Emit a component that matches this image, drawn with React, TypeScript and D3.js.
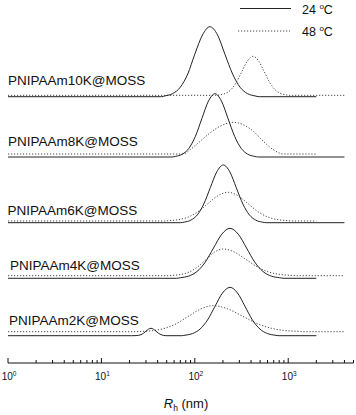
import React, { useEffect, useRef } from 'react'
import * as d3 from 'd3'

type Pt = [number, number]

// sample names, top to bottom
const samples = ['PNIPAAm10K@MOSS', 'PNIPAAm8K@MOSS', 'PNIPAAm6K@MOSS', 'PNIPAAm4K@MOSS', 'PNIPAAm2K@MOSS']

// vertical stacking of each pair of curves (intensity units)
const offsets24 = [266.3, 206, 140.3, 84.7, 27.3]
const offsets48 = [267.7, 209, 142, 87.3, 31.3]

// size distributions, [Rh (nm), intensity]
const s10k: Pt[] = [[1, 0], [44, 0], [48, 0.8], [58, 3.1], [70, 9.5], [84, 22.7], [100, 42.5], [121, 61.8], [145, 70], [175, 61.8], [210, 42.5], [254, 22.7], [305, 9.5], [366, 3.1], [441, 0.8], [490, 0], [2000, 0]]
const d10k: Pt[] = [[1, 0], [165, 0], [183, 0.4], [210, 1.7], [242, 5.3], [277, 12.7], [319, 23.7], [366, 34.4], [420, 39], [482, 34.4], [553, 23.7], [635, 12.7], [729, 5.3], [837, 1.7], [961, 0.4], [1050, 0], [4000, 0]]

const s8k: Pt[] = [[1, 0], [57, 0], [62.5, 0.7], [73.5, 2.8], [86.3, 8.6], [101.4, 20.6], [119, 38.4], [140, 55.9], [164.5, 63.3], [193, 55.9], [227, 38.4], [267, 20.6], [314, 8.6], [368, 2.8], [433, 0.7], [480, 0], [4000, 0]]
const d8k: Pt[] = [[1, 0], [75, 0], [89, 4.3], [114, 12.7], [145, 21], [186, 27.7], [258, 31.7], [330, 29.3], [423, 22.7], [541, 12.7], [693, 4.3], [817, 0.7], [887, 0], [2000, 0]]

const s6k: Pt[] = [[1, 0], [70, 0], [77.2, 0.6], [90.6, 2.5], [106.4, 7.8], [124.8, 18.7], [146.5, 35], [172, 50.9], [202, 57.7], [237, 50.9], [278, 35], [327, 18.7], [384, 7.8], [450, 2.5], [528, 0.6], [580, 0], [4000, 0]]
const d6k: Pt[] = [[1, 0], [47, 0], [51.6, 0.3], [66.1, 1.3], [84.6, 3.9], [108.2, 9.3], [138.4, 17.4], [177, 25.3], [227, 28.7], [290, 25.3], [371, 17.4], [475, 9.3], [608, 3.9], [778, 1.3], [995, 0.3], [1100, 0], [2000, 0]]

const s4k: Pt[] = [[1, 0], [64, 0], [70.3, 0.6], [86.1, 2.2], [105.6, 6.8], [129.4, 16.2], [158.6, 30.3], [194.4, 44.1], [238, 50], [292, 44.1], [358, 30.3], [438, 16.2], [537, 6.8], [658, 2.2], [807, 0.6], [900, 0], [2000, 0]]
const d4k: Pt[] = [[1, 0], [52, 0], [57, 0.3], [70.3, 1.2], [86.7, 3.6], [106.9, 8.7], [131.8, 16.2], [162.5, 23.6], [200.4, 26.7], [266, 23.6], [353, 16.2], [469, 8.7], [623, 3.6], [827, 1.2], [1098, 0.3], [1250, 0], [4000, 0]]

const s2k: Pt[] = [[1, 0], [21, 0], [23.5, 0.1], [26.5, 1], [28.2, 2.4], [30, 4.5], [31.9, 6.5], [34, 7.4], [36.1, 6.5], [38.4, 4.5], [40.9, 2.4], [43.5, 1], [46.3, 0.3], [49, 0], [72, 0], [78.5, 0.5], [94.5, 2.1], [113.7, 6.6], [136.8, 15.7], [164.5, 29.4], [198, 42.7], [238, 48.4], [286.5, 42.7], [344.5, 29.4], [414, 15.7], [499, 6.6], [600, 2.1], [722, 0.5], [800, 0], [2000, 0]]
const d2k: Pt[] = [[1, 0], [23, 0], [26.5, 0.3], [35.7, 1.1], [48, 3.5], [64.5, 8.4], [86.7, 15.8], [116.5, 22.9], [156.6, 26], [224, 22.9], [320, 15.8], [458, 8.4], [655, 3.5], [935, 1.1], [1337, 0.3], [1500, 0], [4000, 0]]

const series24 = [s10k, s8k, s6k, s4k, s2k]
const series48 = [d10k, d8k, d6k, d4k, d2k]

const majorTicks = [1, 10, 100, 1000]
const tickExponents = ['0', '1', '2', '3']
const legendLabels = ['24 ', '48 ']

const width = 356
const height = 415
const axisY = 363
const font = 'Liberation Sans, Arial, sans-serif'
const labelX = [8, 8, 7.5, 10, 9]
const labelY = [84.5, 146, 214.5, 270, 325]

const App = () => {
  const ref = useRef<SVGSVGElement>(null)

  useEffect(() => {
    const x = d3.scaleLog().domain([1, 5000]).range([8, 353.5])
    const y = d3.scaleLinear().domain([0, 100]).range([axisY, axisY - 100])

    const svg = d3.select(ref.current)
    svg.selectAll('*').remove()

    const lineAt = (off: number) => d3.line<Pt>()
      .x(d => x(d[0]))
      .y(d => y(d[1] + off))
      .curve(d3.curveMonotoneX)

    // curves
    series48.forEach((s, i) => {
      svg.append('path')
        .attr('d', lineAt(offsets48[i])(s))
        .attr('fill', 'none')
        .attr('stroke', '#444')
        .attr('stroke-width', 1)
        .attr('stroke-dasharray', '1.2,1.8')
    })
    series24.forEach((s, i) => {
      svg.append('path')
        .attr('d', lineAt(offsets24[i])(s))
        .attr('fill', 'none')
        .attr('stroke', '#222')
        .attr('stroke-width', 1)
    })

    // sample names
    svg.append('g')
      .selectAll('text')
      .data(samples)
      .join('text')
      .attr('x', (d, i) => labelX[i])
      .attr('y', (d, i) => labelY[i])
      .attr('font-family', font)
      .attr('font-size', 13.5)
      .attr('fill', '#111')
      .text(d => d)

    // x axis
    const ax = svg.append('g')
    ax.append('line')
      .attr('x1', x(1)).attr('x2', x(5000))
      .attr('y1', axisY).attr('y2', axisY)
      .attr('stroke', '#111')
    ax.selectAll('line.tick')
      .data(x.ticks())
      .join('line')
      .attr('class', 'tick')
      .attr('x1', d => x(d)).attr('x2', d => x(d))
      .attr('y1', axisY)
      .attr('y2', d => majorTicks.includes(d) ? axisY - 5 : axisY - 3)
      .attr('stroke', '#111')
    const lab = ax.selectAll('text.tl')
      .data(majorTicks)
      .join('text')
      .attr('class', 'tl')
      .attr('x', d => x(d) + 1)
      .attr('y', axisY + 17)
      .attr('text-anchor', 'middle')
      .attr('font-family', font)
      .attr('font-size', 10)
      .attr('fill', '#111')
    lab.append('tspan').text('10')
    lab.append('tspan')
      .attr('dy', -4)
      .attr('font-size', 6.5)
      .text((d, i) => tickExponents[i])

    const title = svg.append('text')
      .attr('x', 186)
      .attr('y', 408)
      .attr('text-anchor', 'middle')
      .attr('font-family', font)
      .attr('font-size', 13)
      .attr('fill', '#111')
    title.append('tspan').attr('font-style', 'italic').text('R')
    title.append('tspan').attr('font-size', 8.5).attr('dy', 3).text('h')
    title.append('tspan').attr('dy', -3).text(' (nm)')

    // legend
    const lg = svg.append('g')
    lg.append('line')
      .attr('x1', 240).attr('x2', 291).attr('y1', 8.5).attr('y2', 8.5)
      .attr('stroke', '#222')
    lg.append('line')
      .attr('x1', 238).attr('x2', 290).attr('y1', 31).attr('y2', 31)
      .attr('stroke', '#444').attr('stroke-dasharray', '1.2,1.8')
    legendLabels.forEach((t, i) => {
      const tx = lg.append('text')
        .attr('x', 302)
        .attr('y', 13.5 + i * 22.5)
        .attr('font-family', font)
        .attr('font-size', 12.5)
        .attr('fill', '#111')
      tx.append('tspan').text(t)
      tx.append('tspan').attr('font-size', 8).attr('dy', -5).text('o')
      tx.append('tspan').attr('dy', 5).text('C')
    })
  }, [])

  return (
    <svg ref={ref} width={width} height={height} style={{ position: 'absolute', left: 0, top: 0, background: '#fff' }} />
  )
}

export default App
